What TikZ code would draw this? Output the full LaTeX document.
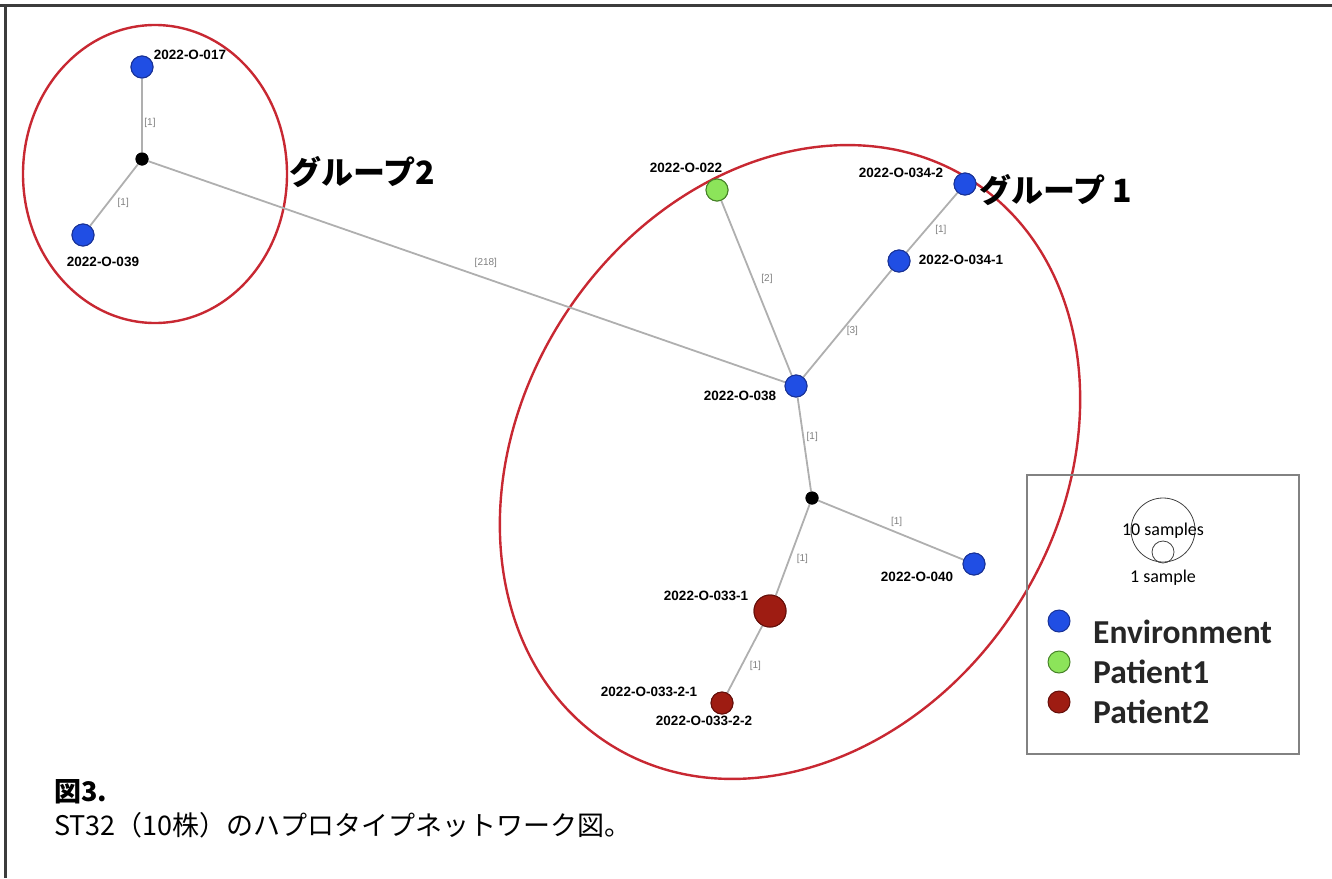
\documentclass[tikz,border=0pt]{standalone}
\usepackage{fontspec}
\setmainfont{Liberation Sans}
\newfontfamily\labfont{Liberation Sans}
\newfontfamily\legfont{Carlito}
\newfontfamily\jpfont{Noto Sans CJK JP}
\definecolor{envblue}{RGB}{32,78,228}
\definecolor{envborder}{RGB}{25,50,150}
\definecolor{p1green}{RGB}{140,228,90}
\definecolor{p1border}{RGB}{70,130,40}
\definecolor{p2red}{RGB}{158,28,18}
\definecolor{p2border}{RGB}{100,15,10}
\definecolor{edgegray}{RGB}{175,175,175}
\definecolor{groupred}{RGB}{200,40,50}
\definecolor{framegray}{RGB}{60,60,60}
\definecolor{boxgray}{RGB}{130,130,130}
\tikzset{
  edge/.style={draw=edgegray, line width=1.8pt},
  elab/.style={font=\labfont\fontsize{10}{12}\selectfont, text=gray, inner sep=0pt},
  nlab/.style={font=\labfont\bfseries\fontsize{13.5}{16}\selectfont, inner sep=0pt},
  hap/.style={circle, inner sep=0pt, minimum size=22pt, line width=1pt},
  envnode/.style={hap, fill=envblue, draw=envborder},
  ponenode/.style={hap, fill=p1green, draw=p1border},
  ptwonode/.style={hap, fill=p2red, draw=p2border},
  hubnode/.style={circle, inner sep=0pt, minimum size=13pt, fill=black},
  grouping/.style={draw=groupred, line width=2.4pt},
  grouptext/.style={font=\jpfont\bfseries\fontsize{32}{36}\selectfont, inner sep=0pt},
  legtext/.style={font=\legfont\bfseries\fontsize{33.5}{38}\selectfont, text=black!85, anchor=base west, inner sep=0pt},
}
\begin{document}
\begin{tikzpicture}[x=1pt,y=1pt]
\useasboundingbox (0,0) rectangle (1332,-878);
% frame
\coordinate (ftl) at (5,-5);
\coordinate (ftr) at (1332,-5);
\coordinate (fbl) at (5,-878);
\draw[framegray, line width=3pt] (0,-5) -- (ftr);
\draw[framegray, line width=3pt] (ftl) -- (fbl);

% group ellipses
\draw[grouping] (155,-174) ellipse [x radius=132pt, y radius=149pt];
\draw[grouping, rotate around={57:(790,-462)}] (790,-462) ellipse [x radius=335pt, y radius=269pt];

% nodes
\node[envnode] (n017) at (142,-67) {};
\node[hubnode] (hA) at (142,-159) {};
\node[envnode] (n039) at (83,-235) {};
\node[ponenode] (n022) at (717,-190) {};
\node[envnode] (n0342) at (965,-184) {};
\node[envnode] (n0341) at (899,-261) {};
\node[envnode] (n038) at (796,-386) {};
\node[hubnode] (hB) at (812,-498) {};
\node[envnode] (n040) at (974,-564) {};
\node[ptwonode, minimum size=32pt] (n0331) at (770,-611) {};
\node[ptwonode] (n0332) at (722,-703) {};

% edges
\draw[edge] (n017) -- node[elab, pos=0.6, xshift=8pt] (e1) {[1]} (hA);
\draw[edge] (hA) -- node[elab, pos=0.62, xshift=15pt] (e2) {[1]} (n039);
\draw[edge] (hA) -- node[elab, pos=0.53, yshift=15pt] (e3) {[218]} (n038);
\draw[edge] (n022) -- node[elab, pos=0.45, xshift=14pt] (e4) {[2]} (n038);
\draw[edge] (n0342) -- node[elab, pos=0.62, xshift=15pt] (e5) {[1]} (n0341);
\draw[edge] (n0341) -- node[elab, pos=0.57, xshift=11pt] (e6) {[3]} (n038);
\draw[edge] (n038) -- node[elab, pos=0.42, xshift=9pt] (e7) {[1]} (hB);
\draw[edge] (hB) -- node[elab, pos=0.54, yshift=11pt] (e8) {[1]} (n040);
\draw[edge] (hB) -- node[elab, pos=0.6, xshift=13pt] (e9) {[1]} (n0331);
\draw[edge] (n0331) -- node[elab, pos=0.6, xshift=14pt] (e10) {[1]} (n0332);

% redraw nodes on top of edges
\node[envnode] at (n017) {};
\node[hubnode] at (hA) {};
\node[envnode] at (n039) {};
\node[ponenode] at (n022) {};
\node[envnode] at (n0342) {};
\node[envnode] at (n0341) {};
\node[envnode] at (n038) {};
\node[hubnode] at (hB) {};
\node[envnode] at (n040) {};
\node[ptwonode, minimum size=32pt] at (n0331) {};
\node[ptwonode] at (n0332) {};

% node labels
\node[nlab] (l017) at (190,-55) {2022-O-017};
\node[nlab] (l039) at (103,-262) {2022-O-039};
\node[nlab] (l022) at (686,-168) {2022-O-022};
\node[nlab] (l0342) at (901,-173) {2022-O-034-2};
\node[nlab] (l0341) at (961,-260) {2022-O-034-1};
\node[nlab] (l038) at (740,-396) {2022-O-038};
\node[nlab] (l040) at (917,-577) {2022-O-040};
\node[nlab] (l0331) at (706,-596) {2022-O-033-1};
\node[nlab] (l03321) at (649,-692) {2022-O-033-2-1};
\node[nlab] (l03322) at (704,-721) {2022-O-033-2-2};

% group titles
\node[grouptext] (g2) at (362,-172) {グループ2};
\node[grouptext] (g1) at (1056,-190) {グループ 1};

% legend
\node[draw=boxgray, line width=1.5pt, minimum width=272pt, minimum height=279pt, inner sep=0pt] (legend) at (1163,-614.5) {};
\node[circle, draw=black!75, line width=0.8pt, minimum size=64pt, inner sep=0pt] (ten) at (1163,-530) {};
\node[circle, draw=black!75, line width=0.8pt, minimum size=22pt, inner sep=0pt] (one) at (1163,-552) {};
\node[font=\legfont\fontsize{18}{22}\selectfont, inner sep=0pt] (tenlab) at (1163,-531) {10 samples};
\node[font=\legfont\fontsize{18}{22}\selectfont, inner sep=0pt] (onelab) at (1163,-578) {1 sample};
\node[envnode] (legenv) at (1059,-621) {};
\node[ponenode] (legp1) at (1059,-662) {};
\node[ptwonode] (legp2) at (1059,-702) {};
\node[legtext] (tenv) at (1093,-643) {Environment};
\node[legtext] (tp1) at (1093,-683) {Patient1};
\node[legtext] (tp2) at (1093,-723) {Patient2};

% caption
\node[font=\jpfont\bfseries\fontsize{27}{30}\selectfont, anchor=base west, inner sep=0pt] (figno) at (54,-801) {図3.};
\node[font=\jpfont\fontsize{27}{30}\selectfont, anchor=base west, inner sep=0pt] (cap) at (54,-835) {ST32（10株）のハプロタイプネットワーク図。};
\end{tikzpicture}
\end{document}
